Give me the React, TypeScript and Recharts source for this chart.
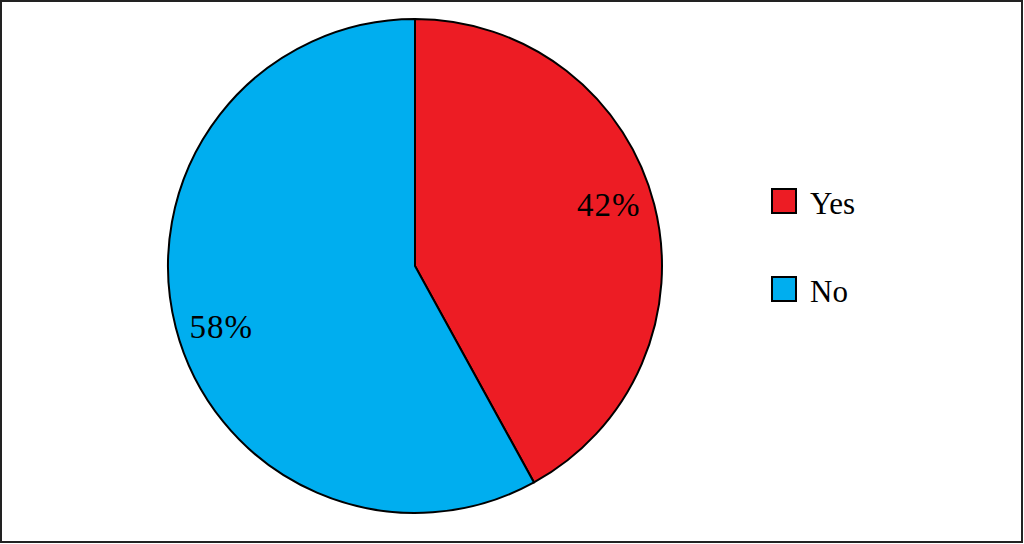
import { Cell, Legend, Pie, PieChart } from "recharts";

const categories = ["Yes", "No"];
const shares = [42, 58];
const colors = ["#ED1C24", "#00AEEF"];

const data = categories.map((name, i) => ({ name, value: shares[i] }));

const RAD = Math.PI / 180;

// labels sit a bit further from the horizontal than the slice middle
function renderLabel(props: any) {
  const { cx, cy, midAngle, outerRadius, value } = props;
  const x = cx + outerRadius * 0.81 * Math.cos(-midAngle * RAD);
  const y = cy + outerRadius * 0.99 * Math.sin(-midAngle * RAD);
  return (
    <text
      x={x}
      y={y}
      textAnchor="middle"
      dominantBaseline="central"
      fontFamily="'Liberation Serif', serif"
      fontSize={33}
      letterSpacing={1}
      fill="#000"
    >
      {`${value}%`}
    </text>
  );
}

function renderLegend(props: any) {
  const payload = [...(props.payload || [])].sort(
    (a: any, b: any) => categories.indexOf(a.value) - categories.indexOf(b.value)
  );
  return (
    <div>
      {payload.map((entry: any, i: number) => (
        <div
          key={entry.value}
          style={{
            display: "flex",
            alignItems: "center",
            height: 28,
            marginBottom: i === 0 ? 60 : 0,
          }}
        >
          <span
            style={{
              width: 26,
              height: 26,
              boxSizing: "border-box",
              border: "2px solid #000",
              background: entry.color,
              marginRight: 13,
            }}
          />
          <span
            style={{
              fontFamily: "'Liberation Serif', serif",
              fontSize: 31,
              color: "#000",
              lineHeight: "28px",
              paddingTop: 5,
            }}
          >
            {entry.value}
          </span>
        </div>
      ))}
    </div>
  );
}

export default function App() {
  return (
    <div
      style={{
        position: "fixed",
        left: 0,
        top: 0,
        width: 1024,
        height: 544,
        background: "#fff",
      }}
    >
      <PieChart
        width={1024}
        height={544}
        margin={{ top: 0, right: 0, bottom: 0, left: 0 }}
      >
        <Pie
          data={data}
          dataKey="value"
          nameKey="name"
          cx={415}
          cy={266}
          outerRadius={247}
          startAngle={90}
          endAngle={-270}
          stroke="#000"
          strokeWidth={2}
          label={renderLabel}
          labelLine={false}
          isAnimationActive={false}
        >
          {data.map((d, i) => (
            <Cell key={d.name} fill={colors[i]} />
          ))}
        </Pie>
        <Legend
          layout="vertical"
          content={renderLegend}
          wrapperStyle={{ left: 771, top: 187, width: 120 }}
        />
      </PieChart>
      <div
        style={{
          position: "absolute",
          left: 0,
          top: 0,
          width: 1023,
          height: 543,
          boxSizing: "border-box",
          border: "2px solid #222",
          pointerEvents: "none",
        }}
      />
    </div>
  );
}
